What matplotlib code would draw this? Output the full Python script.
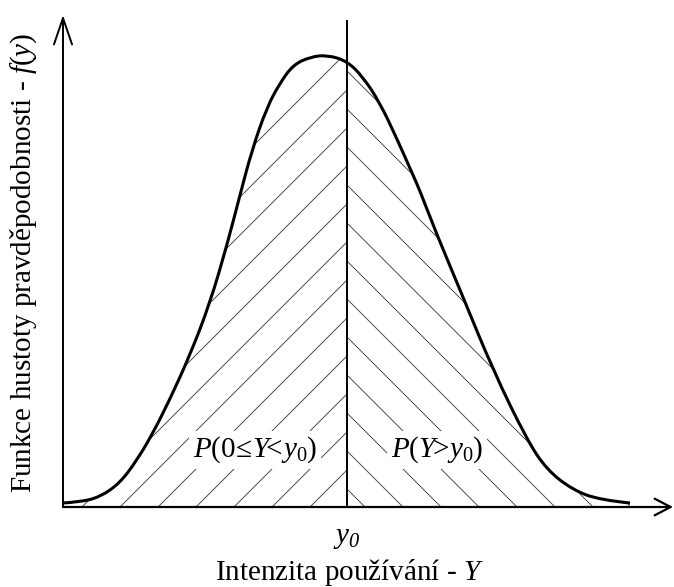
import numpy as np
import matplotlib
matplotlib.use("Agg")
import matplotlib.pyplot as plt
from matplotlib.path import Path
from matplotlib.patches import PathPatch

plt.rcParams['font.family'] = ['Liberation Serif', 'DejaVu Serif']
plt.rcParams['mathtext.fontset'] = 'custom'
plt.rcParams['mathtext.rm'] = 'Liberation Serif'
plt.rcParams['mathtext.it'] = 'Liberation Serif:italic'
plt.rcParams['mathtext.sf'] = 'Liberation Serif:italic'  # italic digits

# curve (arbitrary units, no ticks in the original)
intensity = np.array([0, 17, 37, 57, 74, 90, 107, 127, 147, 164, 177, 189, 204, 217,
                      230, 247, 264, 284, 300, 317, 334, 350, 357, 374, 400, 430,
                      464, 484, 510, 537, 567])
density = np.array([4, 5, 10, 24, 47, 74, 108, 152, 204, 262, 312, 357, 400, 424,
                    442, 450, 452, 446, 430, 404, 368, 332, 316, 272, 210, 137,
                    67, 37, 17, 7, 4])
y0 = 284

xlabel = r'Intenzita používání - $Y$'
ylabel = r'Funkce hustoty pravděpodobnosti - $f(y)$'
tick_label = r'$y_{\mathsf{0}}$'
left_label = r'$P(0\!\leq\!Y\!\!<\!y_0)$'
right_label = r'$P(Y\!\!>\!y_0)$'

fig = plt.figure(figsize=(6.74, 5.87), dpi=100)
ax = fig.add_axes([63/674, 80/587, 610/674, 492/587])
ax.set_xlim(0, 610)
ax.set_ylim(0, 492)
for s in ax.spines.values():
    s.set_visible(False)
ax.set_yticks([])

# smooth path through the read points (quadratic b-spline style)
pts = np.column_stack([intensity, density])
verts = [pts[0]]
codes = [Path.MOVETO]
for i in range(1, len(pts) - 1):
    end = pts[-1] if i == len(pts) - 2 else (pts[i] + pts[i + 1]) / 2
    verts += [pts[i], end]
    codes += [Path.CURVE3, Path.CURVE3]
curve = Path(verts, codes)
area = Path(verts + [(intensity[-1], 0), (0, 0), (0, 0)],
            codes + [Path.LINETO, Path.LINETO, Path.CLOSEPOLY])
area_patch = PathPatch(area, fc='none', ec='none')
ax.add_patch(area_patch)

step = 38
for c in np.arange(57 - step * 12, y0, step):
    xs = np.array([max(c, -600), y0])
    ln, = ax.plot(xs, xs - c, color='#333333', lw=0.6)
    ln.set_clip_path(area_patch)
for c in np.arange(302, 302 + step * 14, step):
    xs = np.array([y0, c])
    ln, = ax.plot(xs, c - xs, color='#333333', lw=0.6)
    ln.set_clip_path(area_patch)

ax.add_patch(PathPatch(curve, fc='none', ec='black', lw=2.2, zorder=5))
ax.plot([y0, y0], [0, 486], color='black', lw=1.4, zorder=5)

# axes with open arrow heads
ax.annotate('', xy=(0, 492), xytext=(0, 0), annotation_clip=False,
            arrowprops=dict(arrowstyle='->,head_length=1.9,head_width=0.65',
                            lw=1.4, color='black', shrinkA=0, shrinkB=0))
ax.annotate('', xy=(610, 0), xytext=(0, 0), annotation_clip=False,
            arrowprops=dict(arrowstyle='->,head_length=1.15,head_width=0.6',
                            lw=1.6, color='black', shrinkA=0, shrinkB=0))

box = dict(boxstyle='square,pad=0.12', fc='white', ec='none')
ax.text(192, 57, left_label, fontsize=21, ha='center', va='center', bbox=box, zorder=4)
ax.text(374, 57, right_label, fontsize=21, ha='center', va='center', bbox=box, zorder=4)

ax.set_xticks([y0])
ax.set_xticklabels([tick_label], fontsize=21)
ax.tick_params(axis='x', length=0, pad=13)

ax.set_xlabel(xlabel, fontsize=21)
ax.xaxis.label.set_va('center')
ax.xaxis.set_label_coords((350 - 63) / 610, (507 - 572) / 492)
ax.set_ylabel(ylabel, fontsize=21)
ax.yaxis.label.set_va('center')
ax.yaxis.set_label_coords((24 - 63) / 610, (507 - 263) / 492)

fig.savefig('out.png', dpi=100)
